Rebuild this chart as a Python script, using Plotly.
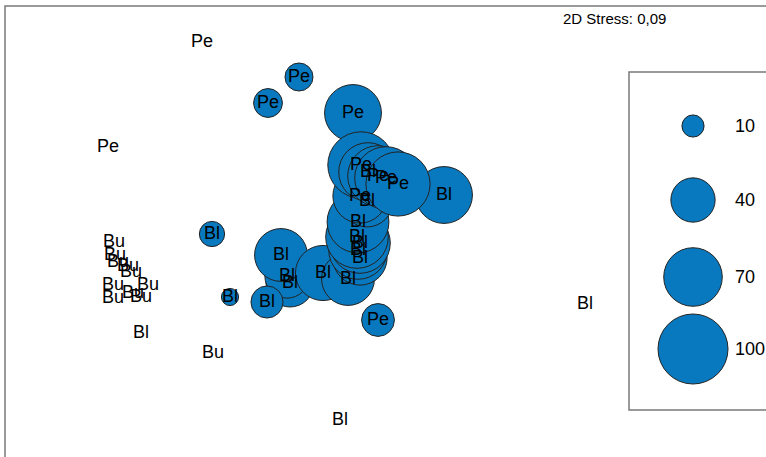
import numpy as np
import plotly.graph_objects as go

# ---- data (NMDS ordination, positions in plot units) ----
groups = ["Pe", "Pe", "Bu", "Bu", "Bu", "Bu", "Bu", "Bu", "Bu", "Bu", "Bu", "Bu",
          "Bl", "Bu", "Bl", "Bl",
          "Pe", "Pe", "Pe", "Bl", "Bl", "Pe",
          "Bl", "Bl", "Bl", "Bl", "Bl", "Bl",
          "Bl", "Bl", "Bl", "Bl", "Bl", "Bl", "Pe", "Bl",
          "Pe", "Bl", "Pe", "Pe", "Pe"]
x_coord = [202, 108, 114, 115, 118, 128, 131, 113, 148, 113, 133, 141,
           141, 213, 585, 340,
           299, 268, 353, 212, 230, 378,
           290, 287, 281, 267, 323, 348,
           360, 358, 360, 357, 358, 367, 360, 444,
           361, 368, 378, 386, 398]
y_coord = [42, 147, 242, 255, 262, 266, 272, 285, 285, 298, 293, 297,
           333, 353, 304, 420,
           77, 103, 113, 234, 297, 320,
           283, 276, 255, 302, 273, 279,
           258, 250, 243, 237, 222, 201, 196, 195,
           165, 172, 176, 178, 184]
abundance = [0, 0, 0, 0, 0, 0, 0, 0, 0, 0, 0, 0,
             0, 0, 0, 0,
             16, 17, 66, 13, 6, 22,
             47, 40, 57, 21, 62, 57,
             60, 70, 75, 80, 78, 55, 60, 66,
             90, 70, 75, 80, 84]

legend_values = [10, 40, 70, 100]
legend_labels = ["10", "40", "70", "100"]
stress_text = "2D Stress: 0,09"

# ---- style ----
BLUE = "#0879BE"
EDGE = "#222222"
FONT = "Liberation Sans, Arial, sans-serif"
SCALE = 7.0  # bubble diameter px per sqrt(abundance)


def diam(v):
    return SCALE * np.sqrt(np.asarray(v, dtype=float))


ab = np.asarray(abundance, dtype=float)
has = ab > 0
xb = np.asarray(x_coord)[has]
yb = np.asarray(y_coord)[has]

fig = go.Figure()

# bubbles first
fig.add_trace(go.Scatter(
    x=xb, y=yb, mode="markers",
    marker=dict(size=diam(ab[has]), color=BLUE,
                line=dict(color=EDGE, width=1), opacity=1),
    showlegend=False, hoverinfo="skip", cliponaxis=False))

# labels on top
fig.add_trace(go.Scatter(
    x=x_coord, y=y_coord, mode="text", text=groups,
    textposition="middle center",
    textfont=dict(family=FONT, size=18, color="black"),
    showlegend=False, hoverinfo="skip", cliponaxis=False))

# ---- bubble-size key ----
leg_x0, leg_y = 693, [126, 200, 277, 349]
fig.add_trace(go.Scatter(
    x=[leg_x0] * len(legend_values), y=leg_y, mode="markers",
    marker=dict(size=diam(legend_values), color=BLUE,
                line=dict(color=EDGE, width=1), opacity=1),
    showlegend=False, hoverinfo="skip", cliponaxis=False))
for lab, yy in zip(legend_labels, leg_y):
    fig.add_annotation(x=733, y=yy, text=lab, showarrow=False,
                       xanchor="left", yanchor="middle",
                       font=dict(family=FONT, size=18, color="black"))

fig.add_annotation(x=614, y=18, text=stress_text, showarrow=False,
                   xanchor="center", yanchor="middle",
                   font=dict(family=FONT, size=15, color="black"))

# frame and key box (right/bottom edges lie outside the picture)
fig.add_shape(type="rect", x0=5, y0=6, x1=900, y1=700,
              line=dict(color="#7a7a7a", width=1.5), layer="below")
fig.add_shape(type="rect", x0=629, y0=72, x1=900, y1=410,
              line=dict(color="#7a7a7a", width=1.5), layer="below")

fig.update_xaxes(range=[0, 766], visible=False, showgrid=False, zeroline=False)
fig.update_yaxes(range=[457, 0], visible=False, showgrid=False, zeroline=False)
fig.update_layout(width=766, height=457, margin=dict(l=0, r=0, t=0, b=0),
                  paper_bgcolor="white", plot_bgcolor="white")

fig.write_html("out.html")
